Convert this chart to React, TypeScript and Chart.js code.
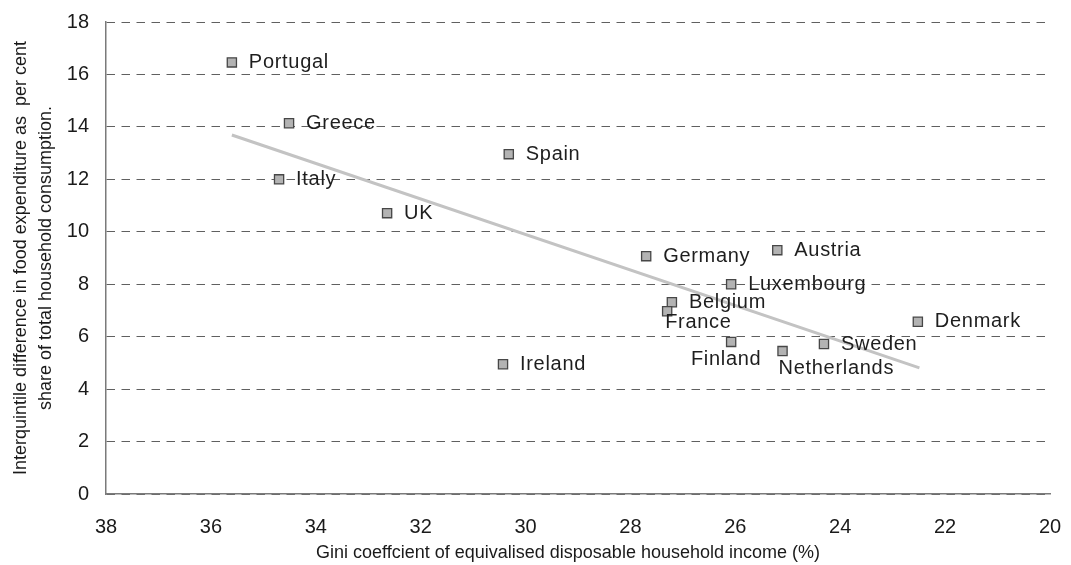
import React, { useEffect, useRef } from 'react';
import { Chart, registerables } from 'chart.js';

Chart.register(...registerables);

const countries = ['Portugal', 'Greece', 'Italy', 'UK', 'Spain', 'Ireland', 'Germany', 'Austria', 'Luxembourg', 'Belgium', 'France', 'Finland', 'Netherlands', 'Sweden', 'Denmark'];
const gini = [35.6, 34.51, 34.7, 32.64, 30.32, 30.43, 27.7, 25.2, 26.08, 27.21, 27.3, 26.08, 25.1, 24.31, 22.52];
const foodGap = [16.46, 14.14, 12.0, 10.71, 12.96, 4.95, 9.07, 9.3, 8.0, 7.31, 6.97, 5.8, 5.45, 5.72, 6.57];
const trendX = [35.6, 22.49];
const trendY = [13.69, 4.81];
const xTickValues = [38, 36, 34, 32, 30, 28, 26, 24, 22, 20];
const yTickValues = [0, 2, 4, 6, 8, 10, 12, 14, 16, 18];

const xTitle = 'Gini coeffcient of equivalised disposable household income (%)';
const yTitle = ['Interquintile difference in food expenditure as  per cent', 'share of total household consumption.'];

const FONT = '"Liberation Sans", Arial, Helvetica, sans-serif';

const LABEL_DEFAULT = { dx: 17, dy: 0, align: 'left' as CanvasTextAlign };
const LABEL_SPECIAL: Record<string, { dx: number; dy: number; align: CanvasTextAlign }> = {
  France: { dx: -2, dy: 11, align: 'left' },
  Finland: { dx: -5, dy: 18, align: 'center' },
  Netherlands: { dx: -4, dy: 17, align: 'left' },
};

const labelPlugin = {
  id: 'countryLabels',
  afterDatasetsDraw(chart: any) {
    const meta = chart.getDatasetMeta(0);
    const ctx: CanvasRenderingContext2D = chart.ctx;
    ctx.save();
    ctx.font = `20px ${FONT}`;
    ctx.fillStyle = '#1e1e1e';
    ctx.textBaseline = 'middle';
    (ctx as any).letterSpacing = '0.7px';
    meta.data.forEach((pt: any, i: number) => {
      const name = countries[i];
      const p = LABEL_SPECIAL[name] || LABEL_DEFAULT;
      ctx.textAlign = p.align;
      ctx.fillText(name, pt.x + p.dx, pt.y + p.dy);
    });
    ctx.restore();
  },
};

const xTitlePlugin = {
  id: 'xTitle',
  afterDraw(chart: any) {
    const ctx: CanvasRenderingContext2D = chart.ctx;
    const area = chart.chartArea;
    const xScale = chart.scales.x;
    ctx.save();
    ctx.font = `18px ${FONT}`;
    ctx.fillStyle = '#1a1a1a';
    ctx.textAlign = 'center';
    ctx.textBaseline = 'middle';
    ctx.fillText(xTitle, (area.left + area.right) / 2 - 10, xScale.bottom - 12);
    ctx.restore();
  },
};

export default function App() {
  const ref = useRef<HTMLCanvasElement | null>(null);

  useEffect(() => {
    if (!ref.current) return;
    const chart = new Chart(ref.current, {
      type: 'scatter',
      data: {
        datasets: [
          {
            label: 'Countries',
            data: gini.map((g, i) => ({ x: g, y: foodGap[i] })),
            pointStyle: 'rect',
            pointRadius: 6.5,
            pointHoverRadius: 6.5,
            backgroundColor: '#b3b3b3',
            borderColor: '#474747',
            borderWidth: 1.3,
          },
          {
            label: 'Trend',
            type: 'line',
            data: trendX.map((x, i) => ({ x, y: trendY[i] })),
            borderColor: '#c3c3c3',
            borderWidth: 3,
            pointRadius: 0,
            fill: false,
            tension: 0,
          } as any,
        ],
      },
      options: {
        animation: false,
        responsive: false,
        devicePixelRatio: 1,
        events: [],
        layout: { padding: { top: 22, right: 21, left: 0, bottom: 0 }, autoPadding: false },
        plugins: {
          legend: { display: false },
          tooltip: { enabled: false },
        },
        scales: {
          x: {
            type: 'linear',
            reverse: true,
            min: 20,
            max: 38,
            afterBuildTicks: (scale: any) => {
              scale.ticks = xTickValues.map((v) => ({ value: v }));
            },
            afterFit: (scale: any) => {
              scale.height = 71;
              scale.paddingLeft = 0;
              scale.paddingRight = 0;
            },
            grid: { display: false, drawTicks: false },
            border: { display: true, color: '#7a7a7a', width: 1.5 },
            ticks: {
              padding: 21,
              color: '#1a1a1a',
              font: { family: FONT, size: 20 },
              maxRotation: 0,
              autoSkip: false,
            },
            title: { display: false },
          },
          y: {
            type: 'linear',
            min: 0,
            max: 18,
            afterBuildTicks: (scale: any) => {
              scale.ticks = yTickValues.map((v) => ({ value: v }));
            },
            afterFit: (scale: any) => {
              scale.width = 106;
              scale.paddingTop = 0;
              scale.paddingBottom = 0;
            },
            grid: { display: true, drawTicks: false, color: '#606060', lineWidth: 1 },
            border: { display: true, color: '#7a7a7a', width: 1.5, dash: [8.5, 6.5] },
            ticks: {
              padding: 17,
              color: '#1a1a1a',
              font: { family: FONT, size: 20 },
              autoSkip: false,
            },
            title: {
              display: true,
              text: yTitle,
              color: '#1a1a1a',
              font: { family: FONT, size: 18, lineHeight: 1.39 },
              padding: { top: 8.5, bottom: 0 },
            },
          },
        },
      },
      plugins: [labelPlugin, xTitlePlugin],
    });
    return () => chart.destroy();
  }, []);

  return (
    <div style={{ position: 'fixed', left: 0, top: 0, width: 1071, height: 565, background: '#fff' }}>
      <canvas ref={ref} width={1071} height={565} style={{ display: 'block', width: 1071, height: 565 }} />
    </div>
  );
}
